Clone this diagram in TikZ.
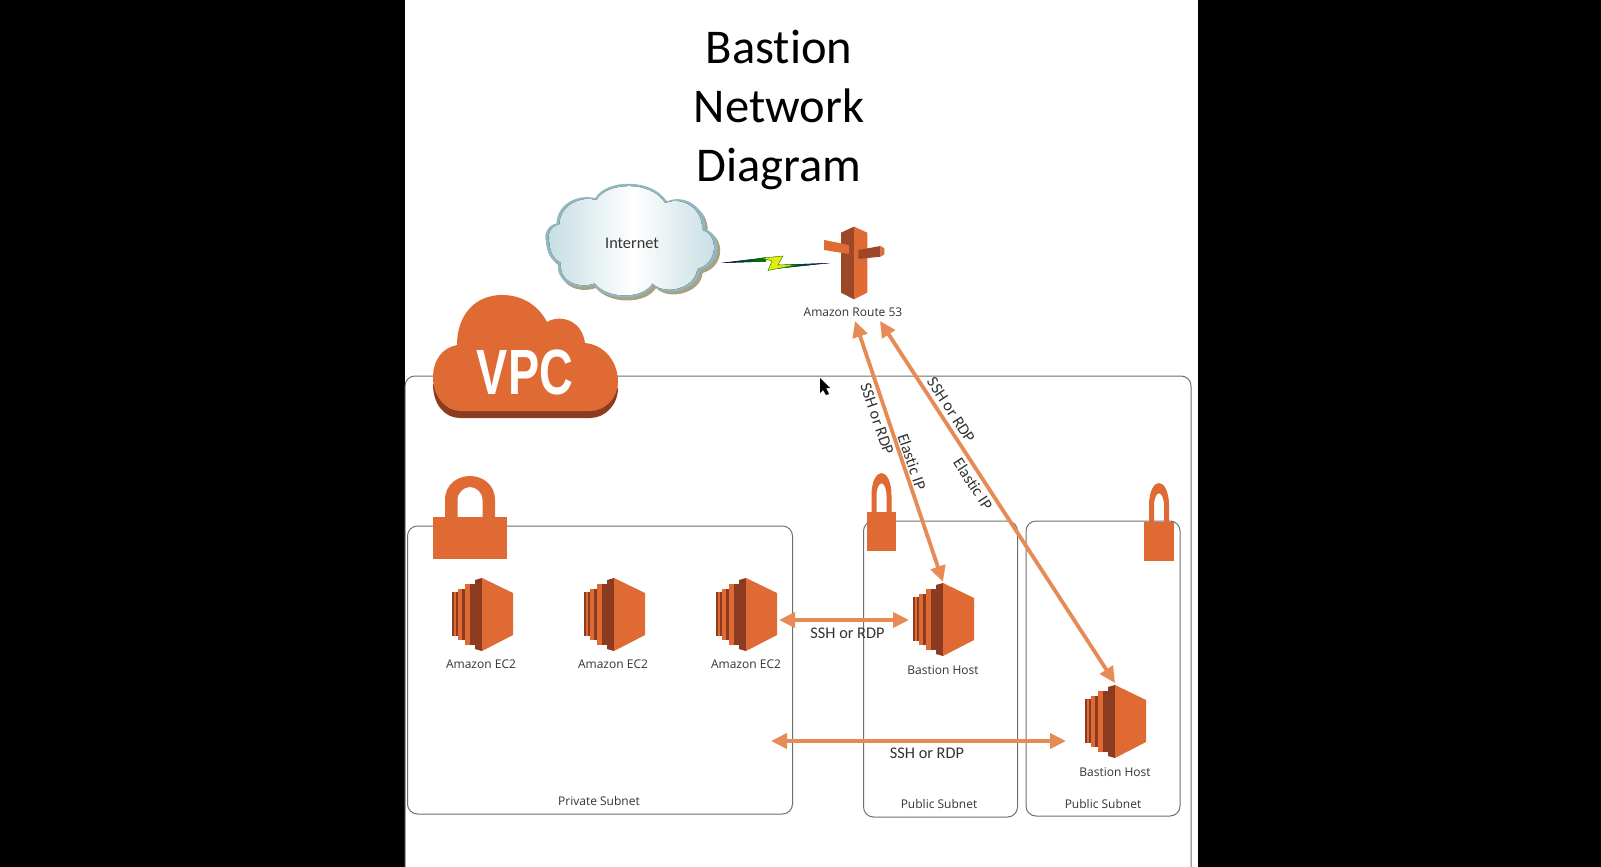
\documentclass[tikz,border=0pt]{standalone}
\usepackage{fontspec}
\setmainfont[Ligatures=NoCommon]{Carlito}
\newfontfamily\iconfont{Open Sans}
\newfontfamily\vpcfont{Liberation Sans}
\usetikzlibrary{arrows.meta}
\definecolor{awsorange}{HTML}{E06A33}
\definecolor{awsdark}{HTML}{8A3B20}
\definecolor{awsmid}{HTML}{9C4728}
\definecolor{linkorange}{HTML}{E68B55}
\definecolor{boxgray}{HTML}{707070}
\definecolor{inkgray}{HTML}{333333}
\definecolor{cloudedge}{HTML}{8FB8BF}
\definecolor{cloudshade}{HTML}{A9A184}
\definecolor{cloudlight}{HTML}{C6DDE3}
\newcommand{\internetpath}{(78,215) .. controls (70,190) and (85,165) .. (110,160)
  .. controls (110,100) and (180,70) .. (225,85)
  .. controls (260,25) and (400,25) .. (440,95)
  .. controls (490,70) and (560,110) .. (555,178)
  .. controls (605,190) and (610,280) .. (540,300)
  .. controls (535,360) and (440,385) .. (400,345)
  .. controls (370,395) and (260,395) .. (220,345)
  .. controls (160,365) and (105,330) .. (115,280)
  .. controls (90,270) and (80,245) .. (78,215) -- cycle}
\tikzset{
  boxline/.style={draw=boxgray,line width=1pt},
  subnetbox/.style={boxline,rounded corners=10pt,minimum width=#1},
  iconlabel/.style={text=inkgray,font=\iconfont\fontsize{12}{14}\selectfont},
  linklabel/.style={text=inkgray,font=\fontsize{16.3}{18}\selectfont},
  sshlink/.style={{Triangle[length=16pt,width=15pt]}-{Triangle[length=16pt,width=15pt]},draw=linkorange,line width=3.8pt},
  ectwo/.pic={
    \foreach \xa/\xm/\xb/\ya/\yb in {-17/-12/-7/6/67,-24/-20/-17/11/62,-28/-26/-24/14/58}{
      \fill[awsorange] (\xa,\ya) rectangle (\xm,\yb);
      \fill[awsdark] (\xm,\ya) rectangle (\xb,\yb);
    }
    \fill[awsdark] (-30,14) rectangle (-28,58);
    \fill[awsdark] (-7,2) -- (0,0) -- (0,73) -- (-7,71) -- cycle;
    \fill[awsorange] (0,0) -- (31,15) -- (31,57) -- (0,73) -- cycle;
  },
  padlock/.pic={
    \fill[awsorange] (-37,41) rectangle (37,83);
    \fill[awsorange] (-25,42) -- (-25,24) .. controls (-25,8) and (-12,0) .. (0,0)
      .. controls (12,0) and (25,8) .. (25,24) -- (25,42) -- (12.5,42) -- (12.5,24)
      .. controls (12.5,16) and (6,11) .. (0,11) .. controls (-6,11) and (-12.5,16) .. (-12.5,24)
      -- (-12.5,42) -- cycle;
  },
}

\begin{document}
\begin{tikzpicture}[x=1pt,y=-1pt]
    \useasboundingbox (0,0) rectangle (1601,867);
    % Slide
    \fill[black] (0,0) rectangle (1601,867);
    \fill[white] (405,0) rectangle (1198,867);
    \node[align=center,font=\fontsize{48.5}{59}\selectfont] (title) at (779,110) {Bastion\\Network\\Diagram};
    % VPC and subnets
    \draw[boxline,rounded corners=10pt] (405,867) -- (405,376) -- (1191,376) -- (1191,867);
    \node[subnetbox=385pt,minimum height=288pt] (privatebox) at (600,670) {};
    \node[subnetbox=154pt,minimum height=296pt] (publicboxa) at (940.5,669) {};
    \node[subnetbox=154pt,minimum height=295pt] (publicboxb) at (1103,668.5) {};
    \node[iconlabel] (privatetext) at (599,801) {Private Subnet};
    \node[iconlabel] (publictexta) at (939,804) {Public Subnet};
    \node[iconlabel] (publictextb) at (1103,804) {Public Subnet};
    % VPC cloud
    \fill[awsdark] (433,384) .. controls (433,405) and (445,418) .. (460,418) -- (590,418)
      .. controls (605,418) and (618,405) .. (618,388) -- cycle;
    \fill[awsorange] (433,378) .. controls (433,360) and (442,348) .. (457,345)
      .. controls (457,315) and (475,295) .. (502,295)
      .. controls (522,295) and (538,305) .. (547,322)
      .. controls (560,314) and (582,320) .. (585,343)
      .. controls (605,345) and (618,362) .. (618,382)
      .. controls (618,398) and (605,411) .. (590,411) -- (460,411)
      .. controls (445,411) and (433,395) .. (433,378) -- cycle;
    \node[text=white,font=\vpcfont\bfseries\fontsize{64}{64}\selectfont] (vpctext) at (525,372.5) {\scalebox{.73}[1]{VPC}};
    % Padlocks
    \pic at (470,476) {padlock};
    \pic[xscale=.4,yscale=.94] at (881.5,473) {padlock};
    \pic[xscale=.4,yscale=.94] at (1159,483) {padlock};
    % Internet cloud
    \begin{scope}[shift={(520,170)},scale=.3333]
      \fill[cloudshade,shift={(8,9)}] \internetpath;
      \fill[cloudedge] \internetpath;
      \fill[left color=cloudlight,right color=cloudlight,middle color=white,shift={(13,9)},scale=.96] \internetpath;
    \end{scope}
    \node[linklabel] (internet) at (632,243.5) {Internet};
    % Lightning link
    \coordinate (boltleft) at (721,263);
    \coordinate (boltright) at (830,263);
    \fill[left color=blue!50!black,right color=green!50!black] (boltleft) -- (766,257.5) -- (766,261.5) -- cycle;
    \fill[left color=green!50!black,right color=blue!50!black] (778,265) -- (778,268.5) -- (boltright) -- cycle;
    \fill[yellow!90!green,draw=green!50!black,line width=.4pt] (762,258) -- (783,256) -- (778,265) -- (796,265) -- (768,270.5) -- (772,261) -- cycle;
    % Route 53
    \begin{scope}[shift={(815,220)},scale=.3333]
      \fill[awsmid] (78,38) -- (117,20) -- (117,238) -- (78,218) -- cycle;
      \fill[awsorange] (117,20) -- (157,38) -- (157,218) -- (117,238) -- cycle;
      \fill[awsorange] (27,60) -- (102,75) -- (102,102) -- (27,90) -- cycle;
      \fill[awsmid] (130,90) -- (197,78) -- (197,110) -- (130,117) -- cycle;
      \fill[awsorange] (197,78) -- (208,85) -- (208,103) -- (197,110) -- cycle;
    \end{scope}
    \node[iconlabel] (route) at (853,312.5) {Amazon Route 53};
    % EC2 instances
    \pic at (482,578) {ectwo};
    \pic at (614,578) {ectwo};
    \pic at (746,578) {ectwo};
    \pic at (943,583) {ectwo};
    \pic at (1115,685) {ectwo};
    \node[iconlabel] (ecalabel) at (481,664) {Amazon EC2};
    \node[iconlabel] (ecblabel) at (613,664) {Amazon EC2};
    \node[iconlabel] (ecclabel) at (746,664) {Amazon EC2};
    \node[iconlabel] (bastionlabela) at (943,670) {Bastion Host};
    \node[iconlabel] (bastionlabelb) at (1115,772) {Bastion Host};
    % Links
    \coordinate (routea) at (855,321);
    \coordinate (routeb) at (880,321);
    \coordinate (bastiona) at (943,582);
    \coordinate (bastionb) at (1115,683);
    \coordinate (ecright) at (779,620);
    \coordinate (bastionaleft) at (909,620);
    \coordinate (privateedge) at (771,741);
    \coordinate (bastionbleft) at (1066,741);
    \draw[sshlink] (routea) -- (bastiona);
    \draw[sshlink] (routeb) -- (bastionb);
    \draw[sshlink] (ecright) -- (bastionaleft);
    \draw[sshlink] (privateedge) -- (bastionbleft);
    \node[linklabel,rotate=-71] (sshupa) at (877,419) {SSH or RDP};
    \node[linklabel,rotate=-71] (elasticupa) at (912,462) {Elastic IP};
    \node[linklabel,rotate=-57] (sshupb) at (951,410) {SSH or RDP};
    \node[linklabel,rotate=-57] (elasticupb) at (973,484) {Elastic IP};
    \node[linklabel] (sshmida) at (847.5,633.5) {SSH or RDP};
    \node[linklabel] (sshmidb) at (927,753.5) {SSH or RDP};
    % Mouse pointer
    \fill[black] (820,378) -- (820,393) -- (823,390) -- (826,395) -- (829,394) -- (826,388) -- (830,388) -- cycle;
\end{tikzpicture}
\end{document}
